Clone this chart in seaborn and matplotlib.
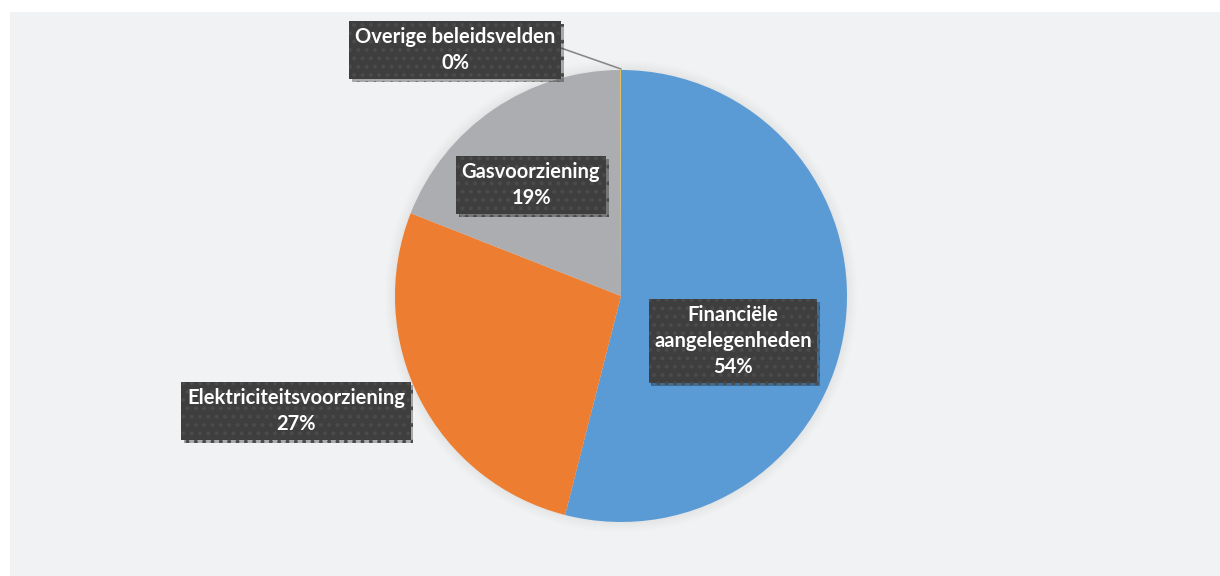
import matplotlib
matplotlib.use("Agg")
import matplotlib.pyplot as plt
import matplotlib.patheffects as pe
from matplotlib.patches import Rectangle, Circle
import seaborn as sns

# Share of the budget per policy field
categories = ["Financiële\naangelegenheden", "Elektriciteitsvoorziening",
              "Gasvoorziening", "Overige beleidsvelden"]
shares = [54.0, 27.0, 19.0, 0.04]
palette = ["#5B9BD5", "#ED7D31", "#ABADB0", "#FFC000"]

sns.set_theme(style="white")
plt.rcParams["font.family"] = ["Lato", "DejaVu Sans"]
plt.rcParams["hatch.linewidth"] = 1.6

W, H = 1220, 576
fig = plt.figure(figsize=(W / 100, H / 100), dpi=100)
fig.patch.set_facecolor("white")
ax = fig.add_axes([0, 0, 1, 1])
ax.set_xlim(0, W)
ax.set_ylim(0, H)
ax.set_aspect("equal")
ax.axis("off")

# chart panel
ax.add_patch(Rectangle((10, 0), W - 10, H - 12, facecolor="#F1F2F3",
                       edgecolor="none", zorder=0))

cx, cy, r = 621, 280, 226
# soft halo around the pie
for i, a in enumerate([0.035, 0.03, 0.025, 0.02, 0.015]):
    ax.add_patch(Circle((cx, cy), r + 2 + 2 * i, facecolor="#9a9a9a",
                        alpha=a, edgecolor="none", zorder=1))

total = sum(shares)
wedges, _ = ax.pie(shares, colors=palette, startangle=90, counterclock=False,
                   center=(cx, cy), radius=r, frame=True,
                   wedgeprops=dict(linewidth=0, zorder=2))
ax.set_xlim(0, W)
ax.set_ylim(0, H)
ax.axis("off")

# label box placements (centre of each box)
label_pos = [(733, 235), (296, 165), (531, 391), (455, 526)]

for name, val, (tx, ty) in zip(categories, shares, label_pos):
    pct = round(val / total * 100)
    t = ax.text(tx, ty, f"{name}\n{pct:.0f}%", ha="center", va="center",
                color="white", fontsize=14.5, fontweight="bold",
                linespacing=1.4, zorder=6,
                bbox=dict(boxstyle="square,pad=0.28", facecolor="#3E3E3E",
                          edgecolor="#4B4B4B", linewidth=0, hatch=".."))
    t.get_bbox_patch().set_path_effects(
        [pe.SimplePatchShadow(offset=(2, -2), shadow_rgbFace="#000000", alpha=0.3),
         pe.Normal()])

# leader line for the tiny slice
ax.plot([561, 621], [528, 507], color="#8a8a8a", linewidth=1.2, zorder=3)

fig.savefig("out.png", dpi=100, facecolor="white")
